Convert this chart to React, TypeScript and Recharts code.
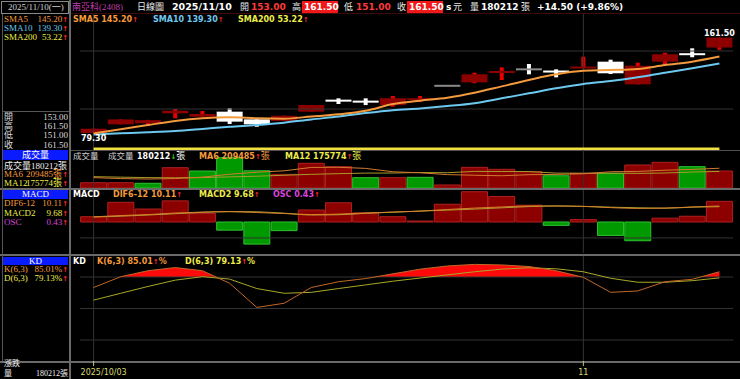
import React from 'react';
import { ComposedChart, Bar, Line, Area, XAxis, YAxis, ReferenceLine, ReferenceDot, Cell } from 'recharts';

// ---------- data ----------
const dates = ["2025/10/03","2025/10/07","2025/10/08","2025/10/09","2025/10/13","2025/10/14","2025/10/15","2025/10/16","2025/10/17","2025/10/20","2025/10/21","2025/10/22","2025/10/23","2025/10/27","2025/10/28","2025/10/29","2025/10/30","2025/10/31","2025/11/03","2025/11/04","2025/11/05","2025/11/06","2025/11/07","2025/11/10"];
const opens = [79.3, 86.8, 87.7, 96.3, 93.4, 97.7, 91.1, 89.7, 97.7, 107.4, 106.5, 103.4, 107.8, 120.0, 123.0, 131.3, 134.2, 132.4, 135.6, 140.8, 121.3, 140.8, 147.5, 153.0];
const highs = [83.0, 91.0, 90.6, 100.0, 98.3, 100.6, 91.1, 94.2, 103.4, 109.2, 109.2, 111.2, 111.2, 120.0, 131.3, 135.9, 138.8, 134.2, 145.1, 142.5, 139.9, 148.5, 152.3, 161.5];
const lows = [79.3, 86.8, 85.3, 92.0, 93.4, 87.1, 84.7, 89.7, 97.7, 104.3, 103.4, 102.0, 106.3, 120.0, 122.2, 125.0, 129.9, 127.3, 135.1, 130.2, 121.3, 138.5, 144.6, 151.0];
const closes = [83.0, 91.0, 90.4, 98.5, 95.7, 89.1, 86.8, 94.2, 103.4, 107.0, 106.2, 109.3, 109.1, 120.0, 129.9, 132.5, 134.2, 132.2, 135.9, 130.8, 137.3, 147.2, 147.0, 161.5];
const sma5 = [79.0, 82.5, 86.2, 89.7, 92.0, 92.8, 92.0, 91.7, 93.5, 95.4, 98.5, 104.3, 107.2, 109.7, 114.0, 119.5, 125.0, 129.9, 133.0, 133.6, 134.5, 137.9, 140.8, 145.2];
const sma10 = [78.0, 79.0, 79.9, 81.0, 82.8, 84.7, 86.2, 88.2, 91.0, 93.5, 96.5, 99.0, 100.5, 102.5, 105.0, 109.2, 113.5, 117.8, 121.6, 124.1, 127.3, 131.3, 135.1, 139.3];
const sma200 = [50.6, 50.7, 50.8, 50.9, 51.0, 51.1, 51.2, 51.3, 51.4, 51.5, 51.6, 51.7, 51.8, 51.9, 52.0, 52.1, 52.3, 52.4, 52.5, 52.6, 52.8, 52.9, 53.1, 53.22];
const volumes = [56000, 56000, 50000, 215000, 180000, 321000, 183000, 145000, 262000, 226000, 109000, 109000, 113000, 32000, 219000, 198000, 173000, 130000, 156000, 156000, 244000, 272000, 226000, 180212];
const volMa6 = [110000, 100000, 95000, 100000, 115000, 146000, 167500, 182000, 218000, 219500, 208000, 172000, 161000, 142000, 135000, 130000, 141000, 144000, 151000, 172000, 176000, 188500, 197000, 209485];
const volMa12 = [120000, 115000, 110000, 108000, 110000, 118000, 125000, 135000, 145000, 152000, 158000, 159000, 164000, 162000, 176000, 175000, 174000, 158000, 156000, 157000, 155000, 159000, 169000, 175774];
const dif = [3.3, 4.1, 4.7, 5.7, 6.3, 6.5, 6.0, 5.4, 4.7, 5.0, 5.7, 6.3, 6.9, 7.9, 8.8, 9.5, 10.1, 10.1, 9.9, 9.1, 8.6, 8.8, 9.5, 10.11];
const macd2 = [3.19, 3.69, 4.43, 5.26, 6.12, 6.67, 6.46, 5.58, 4.45, 4.60, 5.51, 6.19, 6.88, 7.53, 8.17, 8.97, 9.75, 10.17, 9.85, 9.38, 8.99, 8.72, 9.38, 9.68];
const osc = [0.11, 0.41, 0.27, 0.44, 0.18, -0.17, -0.46, -0.18, 0.25, 0.40, 0.19, 0.11, 0.02, 0.37, 0.63, 0.53, 0.35, -0.07, 0.05, -0.28, -0.39, 0.08, 0.12, 0.43];
const kVals = [70, 80.3, 86, 89, 86, 74, 51, 55, 70, 75.5, 78.5, 83, 87.5, 90.5, 92, 91.5, 90, 86, 79.7, 65.4, 66.7, 75.5, 77.8, 85.01];
const dVals = [58, 64.5, 71, 77, 80.3, 78, 69, 64.5, 65.4, 69, 72.5, 76, 79, 82, 85, 87.5, 88.8, 87.8, 85, 78.8, 75, 75, 76.5, 79.13];
const axisTicks = ["2025/10/03", "2025/11/03"];
const axisTickLabels = ["2025/10/03", "11"];

// ---------- layout / style ----------
const W = 740, H = 379, ML = 80, MR = 7;
const PMIN = 64.66, PMAX = 181.9;
const SERIF = '"Liberation Serif","DejaVu Serif","Noto Sans CJK TC",serif';
const SANS = '"DejaVu Sans","Noto Sans CJK TC",sans-serif';
const ORANGE = '#f39a3c', BLUE = '#6cc8ee', YELLOW = '#ecec4a', MAGENTA = '#dd44dd';
const GRID = '#333333', SEP = '#6a6a6a';

const mainData = dates.map((d, i) => ({ d, o: opens[i], h: highs[i], l: lows[i], c: closes[i], hl: [lows[i], highs[i]], sma5: sma5[i], sma10: sma10[i], sma200: sma200[i] }));
const volData = dates.map((d, i) => ({ d, v: volumes[i], ma6: volMa6[i], ma12: volMa12[i], up: i === 0 || closes[i] > closes[i - 1] }));
const macdData = dates.map((d, i) => ({ d, dif: dif[i], macd: macd2[i], osc: osc[i] }));
const kdData = dates.map((d, i) => ({ d, k: kVals[i], dv: dVals[i] }));

const Candle = (props: any) => {
  const { x, y, width, height, payload } = props;
  if (!payload) return null;
  const { o, h, l, c } = payload;
  const span = h - l;
  const py = (p: number) => (span > 0 ? y + ((h - p) / span) * height : y);
  const cx = x + width / 2;
  if (span === 0) return <rect x={x} y={y - 1} width={width} height={2} fill="#8a8a8a" />;
  const up = c > o, down = c < o;
  const wick = up ? '#e80000' : '#ffffff';
  const body = up ? '#8c0000' : down ? '#ffffff' : '#8a8a8a';
  let top = py(Math.max(o, c)), bot = py(Math.min(o, c));
  if (bot - top < 2) { const m = (top + bot) / 2; top = m - 1; bot = m + 1; }
  return (
    <g>
      <rect x={cx - 2} y={py(h)} width={4} height={Math.max(py(l) - py(h), 1)} fill={wick} />
      <rect x={x} y={top} width={width} height={bot - top} fill={body} />
    </g>
  );
};

const DateTick = (props: any) => {
  const { x, y, payload } = props;
  const idx = axisTicks.indexOf(payload.value);
  const first = idx === 0;
  return (
    <text x={first ? x - 13 : x} y={y} dy={7} textAnchor={first ? 'start' : 'middle'} fill="#d8d870" fontSize={8} fontFamily={SANS}>
      {axisTickLabels[idx]}
    </text>
  );
};

function T({ x, r, y, c = '#dcdcdc', s = 9, b = false, f = SERIF, children }: any) {
  const style: any = { position: 'absolute', top: y - (s + 2) / 2, color: c, fontSize: s, lineHeight: `${s + 2}px`, fontFamily: f, fontWeight: b ? 700 : 400, whiteSpace: 'nowrap' };
  if (r !== undefined) style.right = W - r; else style.left = x;
  return <div style={style}>{children}</div>;
}
const Up = () => <span style={{ color: '#ff2a2a', fontFamily: SANS, fontWeight: 700, fontSize: 7 }}>↑</span>;
const Down = () => <span style={{ color: '#22cc22', fontFamily: SANS, fontWeight: 700, fontSize: 7 }}>↓</span>;
const Zh = ({ children }: any) => <span style={{ fontFamily: SERIF, fontWeight: 400, fontSize: 9 }}>{children}</span>;
const HL = ({ top, left = 0, width = W, height = 1, c = SEP }: any) => <div style={{ position: 'absolute', top, left, width, height, background: c }} />;
const BlueBar = ({ top, h = 9, children }: any) => (
  <div style={{ position: 'absolute', left: 3, top, width: 65, height: h, background: '#0b1bff', color: '#fff', fontFamily: SERIF, fontSize: 9, lineHeight: `${h}px`, textAlign: 'center' }}>{children}</div>
);
const Abs = ({ top, children }: any) => <div style={{ position: 'absolute', left: 0, top }}>{children}</div>;

export default function App() {
  return (
    <div style={{ position: 'relative', width: W, height: H, background: '#000', overflow: 'hidden' }}>
      <style>{`body{margin:0;background:#000}`}</style>
      {/* frame lines */}
      <HL top={13} left={71} width={669} c="#3c0c0c" />
      <HL top={150} left={71} width={669} c="#505050" />
      <HL top={188} height={2} />
      <HL top={254} height={2} />
      <HL top={361} height={1.5} />
      <div style={{ position: 'absolute', left: 69, top: 0, width: 2, height: H, background: SEP }} />
      <div style={{ position: 'absolute', left: 1, top: 1, width: 66, height: 11, border: '1px solid #888' }} />
      <div style={{ position: 'absolute', left: 2, top: 14, width: 1, height: 347, background: '#555' }} />
      <HL top={111} left={3} width={66} c="#555" />

      {/* main price chart */}
      <Abs top={0}>
        <ComposedChart width={W} height={150} data={mainData} margin={{ top: 14, right: MR, bottom: 0, left: ML }} barCategoryGap={0.6}>
          <XAxis dataKey="d" scale="band" hide />
          <YAxis hide type="number" domain={[PMIN, PMAX]} allowDataOverflow />
          <ReferenceLine y={150} stroke={GRID} />
          <ReferenceLine y={100} stroke={GRID} />
          <ReferenceLine x={dates[0]} stroke={GRID} />
          <ReferenceLine x={dates[18]} stroke={GRID} />
          <Bar dataKey="hl" shape={(p: any) => <Candle {...p} />} isAnimationActive={false} />
          <Line dataKey={(d: any) => Math.max(d.sma200, PMIN + 1)} type="linear" stroke="#f0e040" strokeWidth={2.6} dot={false} isAnimationActive={false} />
          <Line dataKey="sma10" type="monotone" stroke={BLUE} strokeWidth={2} dot={false} isAnimationActive={false} />
          <Line dataKey="sma5" type="monotone" stroke={ORANGE} strokeWidth={2} dot={false} isAnimationActive={false} />
          <ReferenceDot x={dates[23]} y={highs[23]} r={0} fill="none" stroke="none"
            label={{ value: highs[23].toFixed(2), position: 'top', offset: 2, fill: '#fff', fontSize: 8, fontWeight: 700, fontFamily: SANS }} />
          <ReferenceDot x={dates[0]} y={lows[0]} r={0} fill="none" stroke="none"
            label={{ value: lows[0].toFixed(2), position: 'bottom', offset: 2, fill: '#fff', fontSize: 8, fontWeight: 700, fontFamily: SANS }} />
        </ComposedChart>
      </Abs>

      {/* volume */}
      <Abs top={150}>
        <ComposedChart width={W} height={38} data={volData} margin={{ top: 0, right: MR, bottom: 0, left: ML }} barCategoryGap={0.6}>
          <XAxis dataKey="d" scale="band" hide />
          <YAxis hide type="number" domain={[0, 402800]} allowDataOverflow />
          <ReferenceLine x={dates[0]} stroke={GRID} />
          <ReferenceLine x={dates[18]} stroke={GRID} />
          <Bar dataKey="v" isAnimationActive={false}>
            {volData.map((e, i) => <Cell key={i} fill={e.up ? '#8c0000' : '#009a00'} stroke={e.up ? '#b02020' : '#30c030'} strokeWidth={1} />)}
          </Bar>
          <Line dataKey="ma12" type="linear" stroke="#a89a2a" strokeWidth={1} dot={false} isAnimationActive={false} />
          <Line dataKey="ma6" type="linear" stroke="#d07a30" strokeWidth={1} dot={false} isAnimationActive={false} />
        </ComposedChart>
      </Abs>

      {/* MACD */}
      <Abs top={190}>
        <ComposedChart width={W} height={63} data={macdData} margin={{ top: 0, right: MR, bottom: 0, left: ML }} barCategoryGap={0.6}>
          <XAxis dataKey="d" scale="band" hide />
          <YAxis yAxisId="osc" hide type="number" domain={[-0.645, 0.666]} allowDataOverflow />
          <YAxis yAxisId="ln" hide type="number" domain={[-19.5, 20.2]} allowDataOverflow />
          <ReferenceLine yAxisId="ln" y={-10} stroke={GRID} />
          <ReferenceLine yAxisId="ln" x={dates[0]} stroke={GRID} />
          <ReferenceLine yAxisId="ln" x={dates[18]} stroke={GRID} />
          <Bar yAxisId="osc" dataKey="osc" isAnimationActive={false}>
            {macdData.map((e, i) => <Cell key={i} fill={e.osc >= 0 ? '#8c0000' : '#009a00'} stroke={e.osc >= 0 ? '#b02020' : '#30c030'} strokeWidth={1} />)}
          </Bar>
          <Line yAxisId="ln" dataKey="macd" type="monotone" stroke="#a8a030" strokeWidth={1} dot={false} isAnimationActive={false} />
          <Line yAxisId="ln" dataKey="dif" type="monotone" stroke="#d8802c" strokeWidth={1} dot={false} isAnimationActive={false} />
        </ComposedChart>
      </Abs>

      {/* KD overbought fill (K above 80) */}
      <Abs top={256}>
        <ComposedChart width={W} height={21} data={kdData} margin={{ top: 0, right: MR, bottom: 0, left: ML }}>
          <XAxis dataKey="d" scale="band" hide />
          <YAxis hide type="number" domain={[80, 100]} allowDataOverflow />
          <Area dataKey="k" baseValue={80} type="linear" fill="#ff0a0a" fillOpacity={1} stroke="none" isAnimationActive={false} />
        </ComposedChart>
      </Abs>

      {/* KD */}
      <Abs top={256}>
        <ComposedChart width={W} height={123} data={kdData} margin={{ top: 0, right: MR, bottom: 0, left: ML }}>
          <XAxis dataKey="d" scale="band" height={18} axisLine={false} tickLine={{ stroke: '#c8c870' }} tickSize={5} ticks={axisTicks} interval={0} tick={<DateTick />} />
          <YAxis hide type="number" domain={[0, 100]} />
          <ReferenceLine y={80} stroke={GRID} />
          <ReferenceLine y={50} stroke={GRID} />
          <ReferenceLine y={20} stroke={GRID} />
          <ReferenceLine x={dates[0]} stroke={GRID} />
          <ReferenceLine x={dates[18]} stroke={GRID} />
          <Line dataKey="dv" type="linear" stroke="#a8a828" strokeWidth={1} dot={false} isAnimationActive={false} />
          <Line dataKey="k" type="linear" stroke="#c06828" strokeWidth={1} dot={false} isAnimationActive={false} />
        </ComposedChart>
      </Abs>

      {/* header row */}
      <T x={8} y={7} c="#cfcfcf">2025/11/10(一)</T>
      <T x={72} y={7} c="#c03cae">南亞科(2408)</T>
      <T x={137} y={7} c="#e8e8e8">日線圖</T>
      <T x={172} y={7} c="#fff" s={9.5} b f={SANS}>2025/11/10</T>
      <T x={240} y={7} c="#e8e8e8">開</T>
      <T x={251} y={7} c="#ff3a3a" s={9} b f={SANS}>153.00</T>
      <T x={292} y={7} c="#e8e8e8">高</T>
      <div style={{ position: 'absolute', left: 302, top: 1, width: 36, height: 12, background: '#f01818' }} />
      <T x={304} y={7} c="#fff" s={9} b f={SANS}>161.50</T>
      <T x={344} y={7} c="#e8e8e8">低</T>
      <T x={356} y={7} c="#ff3a3a" s={9} b f={SANS}>151.00</T>
      <T x={397} y={7} c="#e8e8e8">收</T>
      <div style={{ position: 'absolute', left: 407, top: 1, width: 36, height: 12, background: '#f01818' }} />
      <T x={409} y={7} c="#fff" s={9} b f={SANS}>161.50</T>
      <T x={446} y={7} c="#fff" s={9} b f={SANS}>s</T>
      <T x={453} y={7} c="#e8e8e8">元</T>
      <T x={470} y={7} c="#e8e8e8">量</T>
      <T x={481} y={7} c="#fff" s={9} b f={SANS}>180212</T>
      <T x={521} y={7} c="#e8e8e8">張</T>
      <T x={537} y={7} c="#fff" s={9} b f={SANS}>+14.50 (+9.86%)</T>

      {/* main legend */}
      <T x={73} y={19.5} c={ORANGE} s={8} b f={SANS}>SMA5 145.20<Up /></T>
      <T x={153} y={19.5} c={BLUE} s={8} b f={SANS}>SMA10 139.30<Up /></T>
      <T x={238} y={19.5} c={YELLOW} s={8} b f={SANS}>SMA200 53.22<Up /></T>

      {/* volume legend */}
      <T x={73} y={156} c="#cfcfcf" s={8.5}>成交量</T>
      <T x={108} y={156} c="#cfcfcf" s={8.5}>成交量</T>
      <T x={137} y={156} c="#fff" s={8} b f={SANS}>180212<Down /><Zh>張</Zh></T>
      <T x={199} y={156} c={ORANGE} s={8} b f={SANS}>MA6 209485<Up /><Zh>張</Zh></T>
      <T x={285} y={156} c={YELLOW} s={8} b f={SANS}>MA12 175774<Up /><Zh>張</Zh></T>

      {/* macd legend */}
      <T x={73} y={195} c="#fff" s={8} b f={SANS}>MACD</T>
      <T x={113} y={195} c={ORANGE} s={8} b f={SANS}>DIF6-12 10.11<Up /></T>
      <T x={199} y={195} c={YELLOW} s={8} b f={SANS}>MACD2 9.68<Up /></T>
      <T x={273} y={195} c={MAGENTA} s={8} b f={SANS}>OSC 0.43<Up /></T>

      {/* kd legend */}
      <T x={73} y={261.5} c="#fff" s={8} b f={SANS}>KD</T>
      <T x={97} y={261.5} c={ORANGE} s={8} b f={SANS}>K(6,3) 85.01<Up />%</T>
      <T x={185} y={261.5} c={YELLOW} s={8} b f={SANS}>D(6,3) 79.13<Up />%</T>

      {/* left panel */}
      <T x={4} y={19.5} c={ORANGE}>SMA5</T>
      <T r={68} y={19.5} c={ORANGE}>145.20<Up /></T>
      <T x={4} y={28.5} c={BLUE}>SMA10</T>
      <T r={68} y={28.5} c={BLUE}>139.30<Up /></T>
      <T x={4} y={37.5} c={YELLOW}>SMA200</T>
      <T r={68} y={37.5} c={YELLOW}>53.22<Up /></T>

      <T x={4} y={117.5}>開</T><T r={68} y={117.5}>153.00</T>
      <T x={4} y={126.7}>高</T><T r={68} y={126.7}>161.50</T>
      <T x={4} y={135.8}>低</T><T r={68} y={135.8}>151.00</T>
      <T x={4} y={145}>收</T><T r={68} y={145}>161.50</T>

      <BlueBar top={150} h={10}>成交量</BlueBar>
      <T x={4} y={166} c="#eee">成交量180212張</T>
      <T x={4} y={174.5} c={ORANGE}>MA6</T>
      <T r={68} y={174.5} c={ORANGE}>209485張<Up /></T>
      <T x={4} y={183} c={YELLOW}>MA12</T>
      <T r={68} y={183} c={YELLOW}>175774張<Up /></T>

      <BlueBar top={190}>MACD</BlueBar>
      <T x={4} y={203.8} c={ORANGE}>DIF6-12</T>
      <T r={68} y={203.8} c={ORANGE}>10.11<Up /></T>
      <T x={4} y={213} c={YELLOW}>MACD2</T>
      <T r={68} y={213} c={YELLOW}>9.68<Up /></T>
      <T x={4} y={222} c={MAGENTA}>OSC</T>
      <T r={68} y={222} c={MAGENTA}>0.43<Up /></T>

      <BlueBar top={256.5} h={8}>KD</BlueBar>
      <T x={4} y={269.7} c={ORANGE}>K(6,3)</T>
      <T r={68} y={269.7} c={ORANGE}>85.01%<Up /></T>
      <T x={4} y={278.7} c={YELLOW}>D(6,3)</T>
      <T r={68} y={278.7} c={YELLOW}>79.13%<Up /></T>

      <T x={4} y={364} c="#eee" s={8}>漲跌</T>
      <T x={4} y={374} c="#eee" s={8}>量</T>
      <T r={68} y={374} c="#eee" s={8}>180212張</T>
    </div>
  );
}
